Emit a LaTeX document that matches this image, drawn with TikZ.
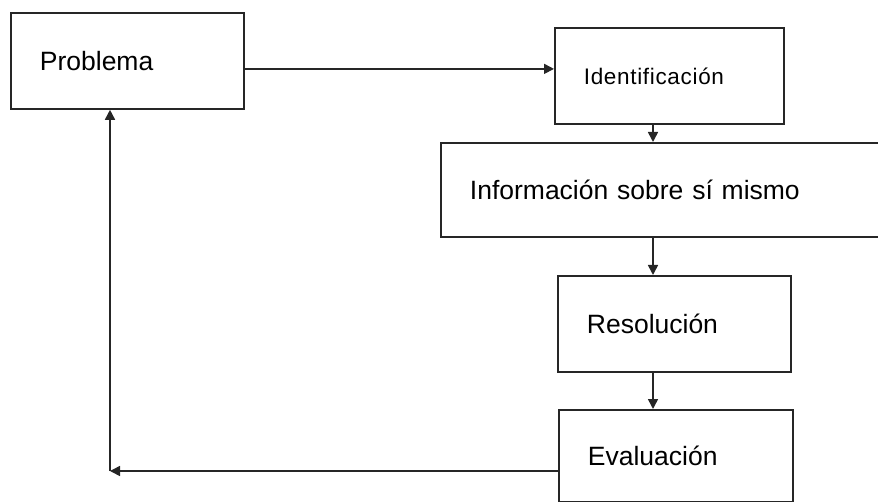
\documentclass[tikz,border=0pt]{standalone}
\usepackage{fontspec}
\setmainfont{Liberation Sans}
\usetikzlibrary{positioning,calc}
\usetikzlibrary{arrows.meta}
\tikzstyle{caja} = [rectangle, draw=black!85, line width=1.8pt, anchor=north west, align=left, inner xsep=29pt, inner ysep=0pt, font=\fontsize{26.5}{30}\selectfont]
\tikzstyle{flecha} = [line width=1.6pt, draw=black!85, -{Triangle[length=10pt,width=10pt]}]
\begin{document}
\begin{tikzpicture}[x=1pt, y=-1pt]
	\clip (0,0) rectangle (878,502);
	\node (prob) at (10,12) [caja, text width=175pt, minimum height=96pt] {Problema};
	\node (iden) at (554,27) [caja, text width=171pt, minimum height=96pt] {\fontsize{22.5}{26}\selectfont\addfontfeature{LetterSpace=3}Identificación};
	\node (info) at (440,142) [caja, text width=402pt, minimum height=94pt] {Información sobre sí mismo};
	\node (reso) at (557,275) [caja, text width=175pt, minimum height=96pt] {Resolución};
	\node (eval) at (558,409) [caja, text width=176pt, minimum height=92pt] {Evaluación};
	\coordinate (eje) at (653,0);
	\coordinate (vuelta) at (110,471);
	\draw[flecha] ([yshift=-8pt]prob.east) -- ([yshift=-8pt]prob.east -| iden.west);
	\draw[flecha] (iden.south -| eje) -- (info.north -| eje);
	\draw[flecha] (info.south -| eje) -- (reso.north -| eje);
	\draw[flecha] (reso.south -| eje) -- (eval.north -| eje);
	\draw[flecha] (eval.west |- vuelta) -- (vuelta);
	\draw[flecha] (vuelta) -- (prob.south -| vuelta);
\end{tikzpicture}
\end{document}
